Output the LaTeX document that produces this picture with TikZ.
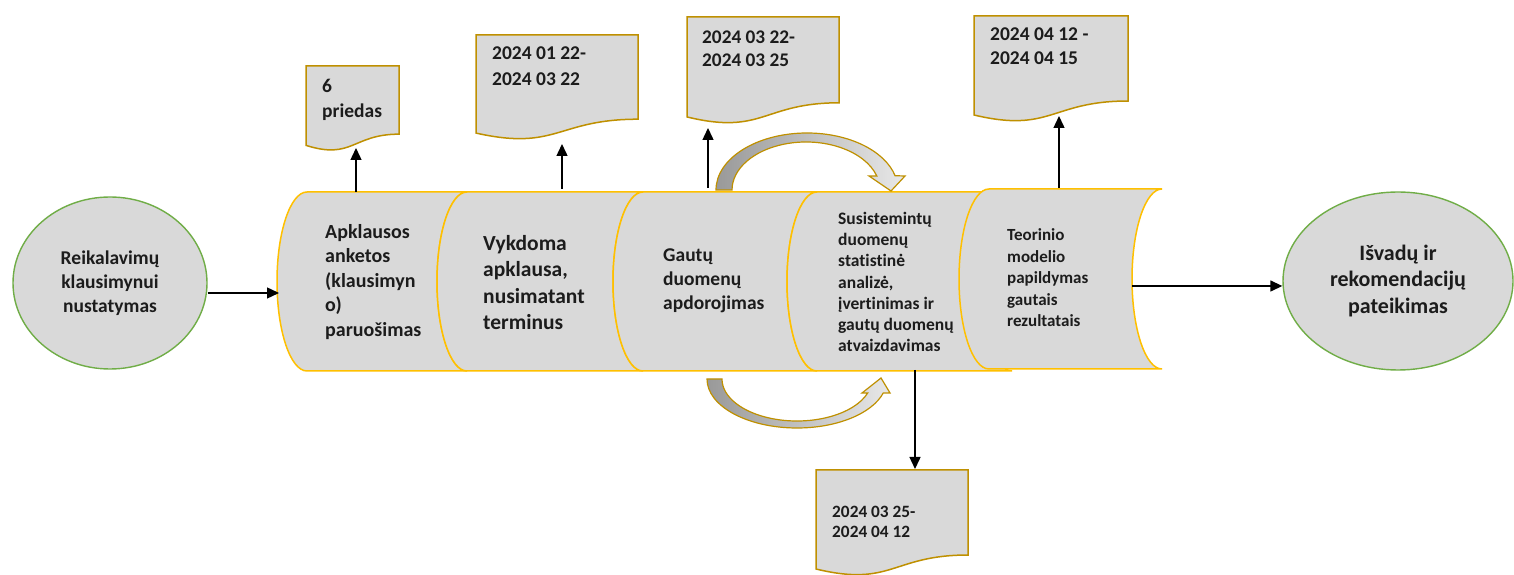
\documentclass[tikz,border=0pt]{standalone}
\usepackage{fontspec}
\setmainfont{Carlito}[Ligatures=NoCommon]
\usetikzlibrary{arrows.meta,shapes.geometric}

\definecolor{boxgray}{HTML}{D9D9D9}
\definecolor{segline}{HTML}{FFC000}
\definecolor{docline}{HTML}{BF9000}
\definecolor{ovalline}{HTML}{70AD47}
\definecolor{ink}{HTML}{1C1C1C}

\tikzset{
  seg/.style={fill=boxgray, draw=segline, line width=1.5pt},
  doc/.style={fill=boxgray, draw=docline, line width=1.5pt},
  oval/.style={ellipse, fill=boxgray, draw=ovalline, line width=1.4pt, inner sep=0pt, align=center, text=ink},
  lbl/.style 2 args={anchor=west, align=left, inner sep=0pt, text=ink, font=\bfseries\fontsize{#1}{#2}\selectfont},
  ctr/.style 2 args={font=\bfseries\fontsize{#1}{#2}\selectfont},
  arr/.style={draw=black, line width=1.4pt, -{Triangle[length=12pt,width=11pt]}},
  curvedarrow/.style={left color=black!40, right color=black!9, draw=docline, line width=1.2pt},
}

% one drum segment: left x, right x, top y, bottom y
\newcommand\drumseg[4]{%
  \filldraw[seg] (#1,#3) -- (#2,#3)
    arc[start angle=90, end angle=270, x radius=30, y radius={(#3-#4)/2}]
    -- (#1,#4)
    arc[start angle=270, end angle=90, x radius=30, y radius={(#3-#4)/2}]
    -- cycle;}

% one document sheet with a wavy lower edge: left x, top y, width, height
\newcommand\docsheet[4]{%
  \filldraw[doc] (#1,#2) -- ({#1+#3},#2) -- ({#1+#3},{#2-0.802*#4})
    .. controls ({#1+0.5*#3},{#2-0.802*#4}) and ({#1+0.5*#3},{#2-1.1075*#4})
    .. (#1,{#2-0.934*#4}) -- cycle;}

\begin{document}
\begin{tikzpicture}[x=1pt, y=1pt]
\useasboundingbox (0,0) rectangle (1514,575);
\fill[white] (0,0) rectangle (1514,575);

% drum segments, left to right
\drumseg{307}{467}{383}{204}
\drumseg{467}{643}{383}{204}
\drumseg{643}{817}{383}{204}
\drumseg{817}{1012}{383}{204}
\drumseg{989}{1162}{386}{206}

\node[lbl={20}{24.5}] (s1) at (325,293) {Apklausos\\anketos\\(klausimyn\\o)\\paruošimas};
\node[lbl={21.5}{26.3}] (s2) at (483,292.5) {Vykdoma\\apklausa,\\nusimatant\\terminus};
\node[lbl={19.5}{24}] (s3) at (663,294) {Gautų\\duomenų\\apdorojimas};
\node[lbl={17.5}{21.3}] (s4) at (838,293) {Susistemintų\\duomenų\\statistinė\\analizė,\\įvertinimas ir\\gautų duomenų\\atvaizdavimas};
\node[lbl={17}{21.5}] (s5) at (1007,297) {Teorinio\\modelio\\papildymas\\gautais\\rezultatais};

% curved arrow over the drum
\shadedraw[curvedarrow] (716,385)
  arc[start angle=180, end angle=14.5, x radius=91, y radius=57]
  -- (905,399) -- (891,384) -- (869,399) -- (876.8,399)
  arc[start angle=16.96, end angle=180, x radius=74, y radius=48]
  -- cycle;

% curved arrow under the drum
\shadedraw[curvedarrow] (707,196)
  arc[start angle=180, end angle=343.4, x radius=90, y radius=49]
  -- (890,182) -- (881,197) -- (862,182) -- (867.7,182)
  arc[start angle=340.53, end angle=180, x radius=75, y radius=42]
  -- cycle;

% document sheets
\docsheet{306}{509}{93}{85}
\docsheet{476}{540}{162}{105}
\docsheet{687}{558}{152}{107}
\docsheet{974}{559}{154}{106}
\docsheet{816}{105}{152}{106}

\node[lbl={19.5}{25}] (d1) at (322,475.5) {6\\priedas};
\node[lbl={19.5}{26}] (d2) at (492,509) {2024 01 22-\\2024 03 22};
\node[lbl={19.3}{23.5}] (d3) at (702,526.5) {2024 03 22-\\2024 03 25};
\node[lbl={19.5}{24}] (d4) at (990,529) {2024 04 12 -\\2024 04 15};
\node[lbl={17.3}{20.5}] (d5) at (832,53) {2024 03 25-\\2024 04 12};

% start and end ovals
\node[oval, ctr={19.5}{24}, minimum width=194pt, minimum height=172pt] (req) at (110,292)
  {Reikalavimų\\klausimynui\\nustatymas};
\node[oval, ctr={22}{26.5}, minimum width=230pt, minimum height=178pt] (concl) at (1398,294)
  {Išvadų ir\\rekomendacijų\\pateikimas};

% connector end points
\coordinate (s1in) at (279,282);
\coordinate (s5out) at (1132,289);
\coordinate (s1up) at (356,383);  \coordinate (d1dn) at (356,427);
\coordinate (s2up) at (562,386);  \coordinate (d2dn) at (562,431);
\coordinate (s3up) at (708,387);  \coordinate (d3dn) at (708,447);
\coordinate (s5up) at (1059,387); \coordinate (d4dn) at (1059,459);
\coordinate (s4dn) at (915,205);  \coordinate (d5up) at (915,106);

\draw[arr] (req.east |- s1in) -- (s1in);
\draw[arr] (s5out) -- (concl.west |- s5out);
\draw[arr] (s1up) -- (d1dn);
\draw[arr] (s2up) -- (d2dn);
\draw[arr] (s3up) -- (d3dn);
\draw[arr] (s5up) -- (d4dn);
\draw[arr] (s4dn) -- (d5up);
\end{tikzpicture}
\end{document}
